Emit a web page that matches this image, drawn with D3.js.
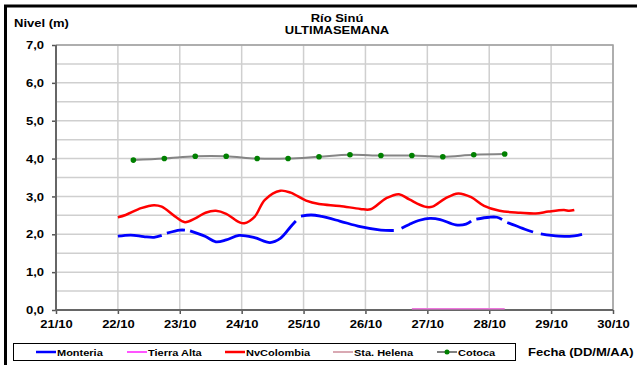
<!DOCTYPE html>
<html>
<head>
<meta charset="utf-8">
<script src="https://cdn.jsdelivr.net/npm/d3@7"></script>
<style>
  html, body { margin: 0; padding: 0; background: #fff; }
  svg text { font-family: "Liberation Sans", Arial, sans-serif; font-weight: bold; fill: #000; }
</style>
</head>
<body>
<svg id="chart" width="637" height="365"></svg>
<script>
// Station water levels (m), Río Sinú, last week
const dayTicks = ["21/10", "22/10", "23/10", "24/10", "25/10", "26/10", "27/10", "28/10", "29/10", "30/10"];
const levelTicks = [0, 1, 2, 3, 4, 5, 6, 7];

// Monteria: null entries are missing readings (gaps in the trace)
const monteria = [
  ["22/10 00:00", 1.95], ["22/10 05:00", 1.98], ["22/10 10:00", 1.94], ["22/10 14:00", 1.92], ["22/10 17:00", 1.97],
  ["22/10 18:00", null],
  ["22/10 19:00", 2.03], ["23/10 00:00", 2.11], ["23/10 02:00", 2.11],
  ["23/10 03:00", null],
  ["23/10 04:00", 2.09], ["23/10 10:00", 1.94], ["23/10 14:00", 1.80], ["23/10 18:00", 1.85], ["23/10 23:00", 1.97],
  ["24/10 05:00", 1.91], ["24/10 11:00", 1.78], ["24/10 15:00", 1.89], ["24/10 19:00", 2.20], ["24/10 21:00", 2.35],
  ["24/10 22:00", null],
  ["24/10 23:00", 2.48], ["25/10 03:00", 2.51], ["25/10 07:00", 2.47], ["25/10 14:00", 2.35], ["25/10 22:00", 2.20],
  ["26/10 06:00", 2.11], ["26/10 11:00", 2.10],
  ["26/10 12:00", null],
  ["26/10 14:00", 2.16], ["26/10 17:00", 2.26], ["26/10 21:00", 2.37], ["27/10 01:00", 2.42], ["27/10 05:00", 2.39],
  ["27/10 11:00", 2.25], ["27/10 15:00", 2.27], ["27/10 17:00", 2.35],
  ["27/10 18:00", null],
  ["27/10 19:00", 2.40], ["28/10 00:00", 2.45], ["28/10 03:00", 2.45], ["28/10 05:00", 2.39],
  ["28/10 06:00", null],
  ["28/10 07:00", 2.31], ["28/10 12:00", 2.18], ["28/10 17:00", 2.06],
  ["28/10 18:00", null],
  ["28/10 20:00", 2.01], ["29/10 03:00", 1.95], ["29/10 09:00", 1.96], ["29/10 12:00", 2.00]
];

const tierraAlta = [
  ["26/10 18:00", 0.03], ["27/10 06:00", 0.03], ["27/10 18:00", 0.03], ["28/10 06:00", 0.03]
];

const nvColombia = [
  ["22/10 00:00", 2.45], ["22/10 03:00", 2.51], ["22/10 09:00", 2.69], ["22/10 14:00", 2.77], ["22/10 17:00", 2.73],
  ["22/10 22:00", 2.48], ["23/10 02:00", 2.32], ["23/10 06:00", 2.42], ["23/10 10:00", 2.57], ["23/10 14:00", 2.62],
  ["23/10 18:00", 2.54], ["23/10 23:00", 2.32], ["24/10 01:00", 2.29], ["24/10 05:00", 2.46], ["24/10 09:00", 2.91],
  ["24/10 15:00", 3.15], ["24/10 19:00", 3.10], ["25/10 01:00", 2.89], ["25/10 06:00", 2.80], ["25/10 14:00", 2.75],
  ["25/10 22:00", 2.67], ["26/10 02:00", 2.66], ["26/10 08:00", 2.95], ["26/10 13:00", 3.06], ["26/10 17:00", 2.92],
  ["26/10 23:00", 2.73], ["27/10 02:00", 2.73], ["27/10 07:00", 2.95], ["27/10 12:00", 3.08], ["27/10 17:00", 2.98],
  ["27/10 22:00", 2.75], ["28/10 04:00", 2.62], ["28/10 12:00", 2.57], ["28/10 18:00", 2.55], ["28/10 23:00", 2.60],
  ["29/10 05:00", 2.64], ["29/10 07:00", 2.62], ["29/10 09:00", 2.64]
];

const cotoca = [
  ["22/10 06:00", 3.96], ["22/10 18:00", 4.00], ["23/10 06:00", 4.06], ["23/10 18:00", 4.06], ["24/10 06:00", 4.00],
  ["24/10 18:00", 4.00], ["25/10 06:00", 4.05], ["25/10 18:00", 4.10], ["26/10 06:00", 4.08], ["26/10 18:00", 4.08],
  ["27/10 06:00", 4.05], ["27/10 18:00", 4.10], ["28/10 06:00", 4.12]
];

const legendNames = ["Monteria", "Tierra Alta", "NvColombia", "Sta. Helena", "Cotoca"];

// ---- drawing ----
const svg = d3.select("#chart");
const parse = d3.timeParse("%d/%m %H:%M");
const dayParse = d3.timeParse("%d/%m");
const toPts = arr => arr.map(([t, v]) => ({ t: parse(t), v }));

const plot = { left: 56, right: 613, top: 45, bottom: 310 };

const x = d3.scaleTime()
  .domain([dayParse(dayTicks[0]), dayParse(dayTicks[dayTicks.length - 1])])
  .range([plot.left, plot.right]);
const y = d3.scaleLinear()
  .domain([levelTicks[0], levelTicks[levelTicks.length - 1]])
  .range([plot.bottom, plot.top]);

const fmtLevel = d3.formatLocale({ decimal: ",", thousands: ".", grouping: [3], currency: ["$", ""] }).format(".1f");

// outer frame (top and left edges)
svg.append("path")
  .attr("d", "M5.5,640 V6 H640")
  .attr("fill", "none").attr("stroke", "#000").attr("stroke-width", 3);

// gridlines
const grid = svg.append("g");
grid.selectAll("line.h")
  .data(d3.range(levelTicks[0], levelTicks[levelTicks.length - 1] + 0.01, 0.5))
  .join("line")
  .attr("x1", plot.left).attr("x2", plot.right)
  .attr("y1", d => y(d)).attr("y2", d => y(d))
  .attr("stroke", "#cfcfcf").attr("stroke-width", 1.5);
grid.selectAll("line.v")
  .data(dayTicks.map(dayParse))
  .join("line")
  .attr("x1", d => x(d)).attr("x2", d => x(d))
  .attr("y1", plot.top).attr("y2", plot.bottom)
  .attr("stroke", "#cfcfcf").attr("stroke-width", 1.5);

// plot border (top, right)
svg.append("path")
  .attr("d", `M${plot.left},${plot.top} H${plot.right} V${plot.bottom}`)
  .attr("fill", "none").attr("stroke", "#a0a0a0").attr("stroke-width", 1.5);

// axes
const yAxis = d3.axisLeft(y).tickValues(levelTicks).tickFormat(fmtLevel).tickSize(4).tickPadding(8);
const gy = svg.append("g").attr("transform", `translate(${plot.left},0)`).call(yAxis);
const xAxis = d3.axisBottom(x).tickValues(dayTicks.map(dayParse)).tickFormat(d3.timeFormat("%d/%m")).tickSize(4).tickPadding(6);
const gx = svg.append("g").attr("transform", `translate(0,${plot.bottom})`).call(xAxis);
[gy, gx].forEach(g => {
  g.select(".domain").remove();
  g.selectAll(".tick line").attr("stroke", "#555").attr("stroke-width", 1.5);
  g.selectAll(".tick text").style("font-size", "10px").attr("fill", "#000");
});
gy.selectAll(".tick text").attr("dy", "0.36em");
gx.selectAll(".tick text").attr("dy", "0.76em");
svg.append("line").attr("x1", plot.left).attr("x2", plot.left).attr("y1", plot.top).attr("y2", plot.bottom + 1)
  .attr("stroke", "#666").attr("stroke-width", 2);
svg.append("line").attr("x1", plot.left - 1).attr("x2", plot.right).attr("y1", plot.bottom).attr("y2", plot.bottom)
  .attr("stroke", "#666").attr("stroke-width", 2);

// series
const line = d3.line()
  .defined(d => d.v !== null)
  .x(d => x(d.t)).y(d => y(d.v))
  .curve(d3.curveCatmullRom.alpha(0.5));

const series = svg.append("g");
series.append("path").datum(toPts(tierraAlta)).attr("d", line)
  .attr("fill", "none").attr("stroke", "#ee77dd").attr("stroke-width", 1.5);
series.append("path").datum(toPts(nvColombia)).attr("d", line)
  .attr("fill", "none").attr("stroke", "#ff0000").attr("stroke-width", 2.5);
series.append("path").datum(toPts(monteria)).attr("d", line)
  .attr("fill", "none").attr("stroke", "#0000ff").attr("stroke-width", 2.8);
series.append("path").datum(toPts(cotoca)).attr("d", line)
  .attr("fill", "none").attr("stroke", "#858585").attr("stroke-width", 2);
series.selectAll("circle").data(toPts(cotoca)).join("circle")
  .attr("cx", d => x(d.t)).attr("cy", d => y(d.v)).attr("r", 2.8)
  .attr("fill", "#008000");

// titles
const labels = svg.append("g");
labels.append("text").attr("x", 337).attr("y", 22).attr("text-anchor", "middle")
  .style("font-size", "10px").text("Río Sinú");
labels.append("text").attr("x", 337).attr("y", 34).attr("text-anchor", "middle")
  .style("font-size", "10px").text("ULTIMASEMANA");
labels.append("text").attr("x", 14).attr("y", 27)
  .style("font-size", "10px").text("Nivel (m)");
labels.append("text").attr("x", 528).attr("y", 356)
  .style("font-size", "10px").text("Fecha (DD/M/AA)");

// legend
const legendStyle = {
  "Monteria": { color: "#0000ff", width: 2.5, x: 36 },
  "Tierra Alta": { color: "#ff55ff", width: 2, x: 127 },
  "NvColombia": { color: "#ff0000", width: 2.5, x: 225 },
  "Sta. Helena": { color: "#c07080", width: 1.2, x: 333 },
  "Cotoca": { color: "#808080", width: 2, x: 437, marker: "#008000" }
};
svg.append("rect").attr("x", 13.5).attr("y", 343.5).attr("width", 502).attr("height", 17)
  .attr("fill", "#fff").attr("stroke", "#000").attr("stroke-width", 1);
const leg = svg.append("g").selectAll("g").data(legendNames).join("g")
  .attr("transform", d => `translate(${legendStyle[d].x},352)`);
leg.append("line").attr("x1", 0).attr("x2", 20).attr("y1", 0).attr("y2", 0)
  .attr("stroke", d => legendStyle[d].color).attr("stroke-width", d => legendStyle[d].width);
leg.filter(d => legendStyle[d].marker).append("circle")
  .attr("cx", 10).attr("cy", 0).attr("r", 2.5).attr("fill", d => legendStyle[d].marker);
leg.append("text").attr("class", "leg").attr("x", 21).attr("y", 3.5).style("font-size", "9px").text(d => d);

// widen labels horizontally to the chart's lettering proportions
svg.selectAll("text").each(function () {
  const k = this.classList.contains("leg") ? 1.22 : 1.3;
  const w = this.getComputedTextLength();
  d3.select(this).attr("textLength", (w * k).toFixed(1)).attr("lengthAdjust", "spacingAndGlyphs");
});
</script>
</body>
</html>
